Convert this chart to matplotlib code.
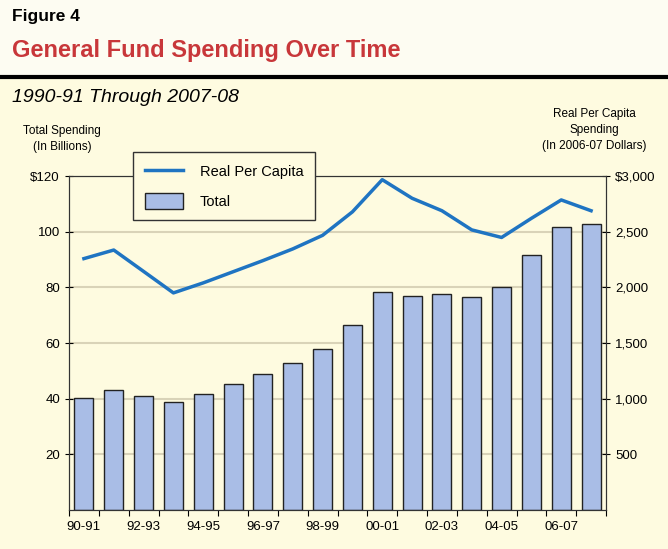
import matplotlib.pyplot as plt
import numpy as np

plt.rcParams['font.family'] = ['Liberation Sans', 'DejaVu Sans']

# fiscal years 1990-91 .. 2007-08
years = ['90-91', '91-92', '92-93', '93-94', '94-95', '95-96', '96-97', '97-98', '98-99',
         '99-00', '00-01', '01-02', '02-03', '03-04', '04-05', '05-06', '06-07', '07-08']
# total spending, billions
total = [40.1, 43.1, 40.8, 38.9, 41.7, 45.3, 48.9, 52.8, 57.8,
         66.6, 78.3, 76.8, 77.7, 76.5, 80.1, 91.6, 101.8, 102.9]
# real per capita spending, 2006-07 dollars
per_capita = [2258, 2335, 2143, 1950, 2040, 2140, 2240, 2345, 2467,
              2678, 2967, 2800, 2688, 2516, 2448, 2620, 2785, 2688]

bg = '#fefbe0'
fig = plt.figure(figsize=(6.68, 5.49), dpi=100)
fig.patch.set_facecolor(bg)

# header strip
fig.patches.append(plt.Rectangle((0, 1 - 77 / 549), 1, 77 / 549, transform=fig.transFigure,
                                 facecolor='#fdfcf2', edgecolor='none', zorder=0))
fig.add_artist(plt.Line2D([0, 1], [1 - 77 / 549, 1 - 77 / 549], transform=fig.transFigure,
                          color='black', lw=3))
fig.text(0.018, 1 - 17 / 549, 'Figure 4', fontsize=12.5, fontweight='bold', va='center')
fig.text(0.018, 1 - 50 / 549, 'General Fund Spending Over Time', fontsize=17,
         fontweight='bold', color='#c8373a', va='center')
fig.text(0.018, 1 - 98 / 549, '1990-91 Through 2007-08', fontsize=14, style='italic',
         va='center')
fig.text(62 / 668, 1 - 139 / 549, 'Total Spending\n(In Billions)', fontsize=8.5,
         ha='center', va='center', linespacing=1.4)
fig.text(594 / 668, 1 - 130 / 549, 'Real Per Capita\nSpending\n(In 2006-07 Dollars)',
         fontsize=8.5, ha='center', va='center', linespacing=1.4)

ax = fig.add_axes([69 / 668, 39 / 549, 537 / 668, 334 / 549])
ax.set_facecolor(bg)
x = np.arange(len(years))
ax.yaxis.grid(True, color='#d9d3b8', lw=1.5)
ax.set_axisbelow(True)
bars = ax.bar(x, total, width=0.64, color='#a9bde6', edgecolor='#222222', lw=1.0,
              label='Total', zorder=2)
ax.set_xlim(-0.5, len(years) - 0.5)
ax.set_ylim(0, 120)
ax.set_yticks([20, 40, 60, 80, 100, 120])
ax.set_yticklabels(['20', '40', '60', '80', '100', '$120'], fontsize=9.5)
ax.set_xticks(np.arange(-0.5, len(years), 1))
ax.set_xticklabels([])
ax.set_xticks(x[::2], minor=True)
ax.set_xticklabels(years[::2], minor=True, fontsize=9.5)
ax.tick_params(axis='x', which='major', direction='out', length=4)
ax.tick_params(axis='x', which='minor', length=0, pad=8)
ax.tick_params(axis='y', direction='inout', length=6)
for s in ax.spines.values():
    s.set_color('#333333')

ax2 = ax.twinx()
line, = ax2.plot(x, per_capita, color='#1f74c2', lw=2.5, label='Real Per Capita', zorder=3)
ax2.set_ylim(0, 3000)
ax2.set_yticks([500, 1000, 1500, 2000, 2500, 3000])
ax2.set_yticklabels(['500', '1,000', '1,500', '2,000', '2,500', '$3,000'], fontsize=9.5)
ax2.tick_params(axis='y', direction='inout', length=6)
for s in ax2.spines.values():
    s.set_color('#333333')

leg = fig.legend([line, bars], ['Real Per Capita', 'Total'], loc='upper left',
                 bbox_to_anchor=(133 / 668, 1 - 152 / 549), fontsize=10.5, frameon=True,
                 fancybox=False, edgecolor='#333333', facecolor=bg, framealpha=1,
                 borderpad=0.8, labelspacing=0.9, handlelength=2.6, handleheight=1.3,
                 handletextpad=1.2, borderaxespad=0)
leg.get_frame().set_linewidth(1.0)

fig.savefig('out.png', dpi=100, facecolor=fig.get_facecolor())
